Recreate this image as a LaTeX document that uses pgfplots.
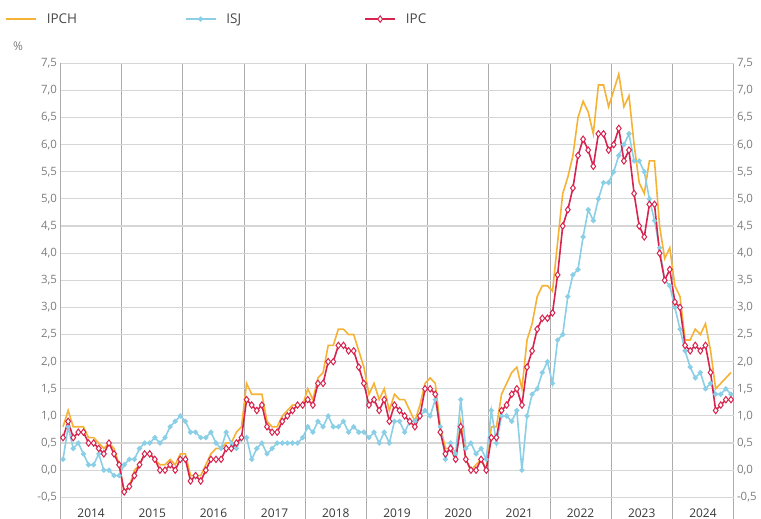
\documentclass[border=0pt]{standalone}
\usepackage{pgfplots}
\usepackage{pgfplotstable}
\pgfplotsset{compat=1.18}
\usepackage{fontspec}
\setmainfont{Open Sans}

\definecolor{ipch}{RGB}{245,178,52}
\definecolor{isj}{RGB}{138,207,230}
\definecolor{ipc}{RGB}{214,36,78}
\definecolor{zeroline}{RGB}{44,46,90}
\definecolor{vgrid}{RGB}{172,172,172}
\definecolor{hgrid}{RGB}{214,214,214}
\definecolor{ticktext}{RGB}{125,125,125}
\definecolor{yeartext}{RGB}{55,55,55}
\definecolor{legtext}{RGB}{70,70,70}

% monthly year-on-year rates, Jan 2014 - Dec 2024
\pgfplotstableread{
ipch isj ipc
0.8 0.2 0.6
1.1 0.8 0.9
0.8 0.4 0.6
0.8 0.5 0.7
0.8 0.3 0.7
0.6 0.1 0.5
0.6 0.1 0.5
0.5 0.3 0.4
0.4 0.0 0.3
0.5 0.0 0.5
0.4 -0.1 0.3
0.1 -0.1 0.1
-0.4 0.1 -0.4
-0.3 0.2 -0.3
0.0 0.2 -0.1
0.1 0.4 0.1
0.3 0.5 0.3
0.3 0.5 0.3
0.2 0.6 0.2
0.1 0.5 0.0
0.1 0.6 0.0
0.2 0.8 0.1
0.1 0.9 0.0
0.3 1.0 0.2
0.3 0.9 0.2
-0.1 0.7 -0.2
-0.1 0.7 -0.1
-0.1 0.6 -0.2
0.1 0.6 0.0
0.3 0.7 0.2
0.4 0.5 0.2
0.4 0.4 0.2
0.5 0.7 0.4
0.5 0.5 0.4
0.7 0.4 0.5
0.8 0.6 0.6
1.6 0.6 1.3
1.4 0.2 1.2
1.4 0.4 1.1
1.4 0.5 1.2
0.9 0.3 0.8
0.8 0.4 0.7
0.8 0.5 0.7
1.0 0.5 0.9
1.1 0.5 1.0
1.2 0.5 1.1
1.2 0.5 1.2
1.2 0.6 1.2
1.5 0.8 1.3
1.3 0.7 1.2
1.7 0.9 1.6
1.8 0.8 1.6
2.3 1.0 2.0
2.3 0.8 2.0
2.6 0.8 2.3
2.6 0.9 2.3
2.5 0.7 2.2
2.5 0.8 2.2
2.2 0.7 1.9
1.9 0.7 1.6
1.4 0.6 1.2
1.6 0.7 1.3
1.3 0.5 1.1
1.5 0.7 1.3
1.1 0.5 0.9
1.4 0.9 1.2
1.3 0.9 1.1
1.3 0.7 1.0
1.1 0.9 0.9
0.9 0.9 0.8
1.2 1.0 1.0
1.6 1.1 1.5
1.7 1.0 1.5
1.6 1.3 1.4
0.8 0.8 0.7
0.4 0.2 0.3
0.4 0.5 0.4
0.2 0.3 0.2
0.9 1.3 0.8
0.2 0.4 0.2
0.0 0.5 0.0
0.1 0.3 0.0
0.2 0.4 0.2
0.0 0.2 0.0
0.8 1.1 0.6
0.8 0.5 0.6
1.4 1.0 1.1
1.6 1.0 1.2
1.8 0.9 1.4
1.9 1.1 1.5
1.5 0.0 1.2
2.4 1.0 1.9
2.7 1.4 2.2
3.2 1.5 2.6
3.4 1.8 2.8
3.4 2.0 2.8
3.3 1.6 2.9
4.2 2.4 3.6
5.1 2.5 4.5
5.4 3.2 4.8
5.8 3.6 5.2
6.5 3.7 5.8
6.8 4.3 6.1
6.6 4.8 5.9
6.2 4.6 5.6
7.1 5.0 6.2
7.1 5.3 6.2
6.7 5.3 5.9
7.0 5.5 6.0
7.3 5.8 6.3
6.7 6.0 5.7
6.9 6.2 5.9
6.0 5.7 5.1
5.3 5.7 4.5
5.1 5.5 4.3
5.7 5.0 4.9
5.7 4.6 4.9
4.5 4.1 4.0
3.9 3.5 3.5
4.1 3.4 3.7
3.4 3.0 3.1
3.2 2.6 3.0
2.4 2.2 2.3
2.4 1.9 2.2
2.6 1.7 2.3
2.5 1.8 2.2
2.7 1.5 2.3
2.2 1.6 1.8
1.5 1.4 1.1
1.6 1.4 1.2
1.7 1.5 1.3
1.8 1.4 1.3
}\inflation

\pgfplotsset{
  frame/.style={
    at={(60.5bp,0bp)}, anchor=south west,
    scale only axis, width=673bp, height=455.7bp,
    xmin=-0.5, xmax=131.5, ymin=-0.9, ymax=7.5,
    ytick={-0.5,0,...,7.5},
    major tick length=0pt,
    axis line style={draw=none},
    yticklabel style={font=\fontsize{11.5}{13}\selectfont, text=ticktext,
      /pgf/number format/fixed, /pgf/number format/fixed zerofill,
      /pgf/number format/precision=1, /pgf/number format/use comma,
      /pgf/number format/assume math mode=true},
  },
}

\begin{document}
\begin{tikzpicture}[x=1bp,y=1bp]
\path[use as bounding box] (0,0) rectangle (761,519);
\node[font=\fontsize{12}{14}\selectfont, text=ticktext] at (18,473) {\%};

\begin{axis}[
    frame,
    xtick={-0.5,11.5,...,131.5},
    xticklabels={},
    extra x ticks={5.5,17.5,29.5,41.5,53.5,65.5,77.5,89.5,101.5,113.5,125.5},
    extra x tick labels={2014,2015,2016,2017,2018,2019,2020,2021,2022,2023,2024},
    extra x tick style={grid=none,
      xticklabel style={anchor=south, yshift=-2bp,
        font=\fontsize{12}{14}\selectfont, text=yeartext}},
    extra y ticks={0},
    extra y tick labels={},
    extra y tick style={grid=major, major grid style={zeroline, line width=1.6bp}},
    xmajorgrids, ymajorgrids,
    x grid style={vgrid, line width=0.9bp},
    y grid style={hgrid, line width=1.1bp},
    legend columns=3,
    legend image code/.code={%
      \draw[mark repeat=2, mark phase=2, #1]
        plot coordinates {(0bp,0bp) (15bp,0bp) (30bp,0bp)};},
    legend style={draw=none, fill=none, inner sep=0pt,
      at={(axis description cs:-0.0825,1.097)}, anchor=west,
      font=\fontsize{13.5}{16}\selectfont, text=legtext,
      /tikz/every odd column/.append style={column sep=10bp},
      /tikz/every even column/.append style={column sep=0bp,
        nodes={text width=138bp, align=left, inner sep=0pt}}},
  ]
  \addplot[ipch, line width=1.6bp, no markers]
    table[x expr=\coordindex, y=ipch] {\inflation};
  \addlegendentry{IPCH}
  \addplot[isj, line width=1.6bp, mark=*, mark size=1.7bp,
    mark options={fill=isj, draw=isj}]
    table[x expr=\coordindex, y=isj] {\inflation};
  \addlegendentry{ISJ}
  \addplot[ipc, line width=1.6bp, mark=diamond*, mark size=3.2bp,
    mark options={fill=white, draw=ipc, line width=1bp}]
    table[x expr=\coordindex, y=ipc] {\inflation};
  \addlegendentry{IPC}
\end{axis}

\begin{axis}[frame, xtick=\empty, yticklabel pos=right]
\end{axis}
\end{tikzpicture}
\end{document}
